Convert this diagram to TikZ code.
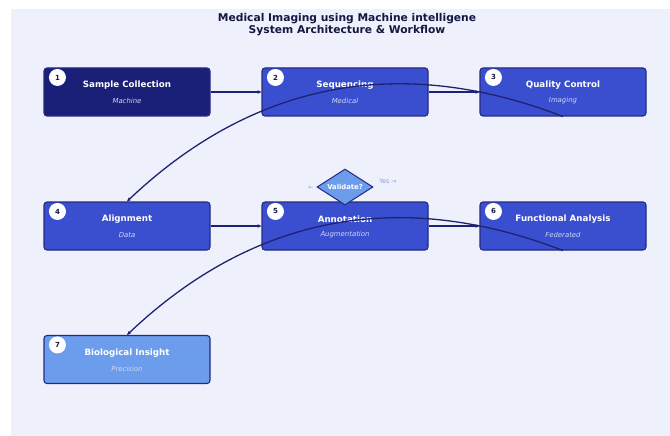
\documentclass[tikz,border=0pt]{standalone}
\usepackage{fontspec}
\setmainfont{DejaVu Sans}
\usetikzlibrary{shapes.geometric,arrows.meta,calc}
\definecolor{panelbg}{HTML}{EEF0FC}
\definecolor{navy}{HTML}{1A1F78}
\definecolor{edgec}{HTML}{252A80}
\definecolor{royal}{HTML}{3A4FCF}
\definecolor{cornf}{HTML}{6C9DEC}
\definecolor{subc}{HTML}{D0D6F5}
\definecolor{titlec}{HTML}{15183F}
\definecolor{linkc}{HTML}{1F2272}
\definecolor{yesc}{HTML}{7F9FE0}
\tikzset{
  box/.style={draw=edgec, line width=1.1pt, rounded corners=3pt, minimum width=166pt, minimum height=48pt, inner sep=0pt},
  numc/.style={circle, fill=white, minimum size=17pt, inner sep=0pt, font=\fontsize{7}{8}\selectfont\bfseries, text=titlec},
  btitle/.style={font=\fontsize{8.7}{10}\selectfont\bfseries, text=white},
  bsub/.style={font=\fontsize{6.9}{8}\selectfont\itshape, text=subc},
  link/.style={draw=linkc, line width=1.3pt, -{Stealth[length=4pt,width=3.5pt]}},
  arc/.style={draw=linkc, line width=1.3pt, -{Stealth[length=4pt,width=3.5pt]}},
}
\begin{document}
\begin{tikzpicture}[x=1pt,y=-1pt]
\useasboundingbox (0,0) rectangle (670,436);
\fill[panelbg] (11,9) rectangle (670,436);
\node[font=\fontsize{10.7}{12}\selectfont\bfseries, text=titlec, align=center] (title) at (347,24.5) {Medical Imaging using Machine intelligene\\System Architecture \& Workflow};

\node[box, fill=navy] (n1) at (127,92) {};
\node[box, fill=royal] (n2) at (345,92) {};
\node[box, fill=royal] (n3) at (563,92) {};
\node[box, fill=royal] (n4) at (127,226) {};
\node[box, fill=royal] (n5) at (345,226) {};
\node[box, fill=royal] (n6) at (563,226) {};
\node[box, fill=cornf] (n7) at (127,359.5) {};

\foreach \n/\t/\s in {n1/Sample Collection/Machine, n2/Sequencing/Medical, n3/Quality Control/Imaging, n4/Alignment/Data, n5/Annotation/Augmentation, n6/Functional Analysis/Federated, n7/Biological Insight/Precision}{
  \node[btitle] (\n t) at ($(\n.center)+(0,-6.5)$) {\t};
  \node[bsub] (\n s) at ($(\n.center)+(0,9)$) {\s};
}
\foreach \n/\k in {n1/1, n2/2, n3/3, n4/4, n5/5, n6/6, n7/7}{
  \node[numc] (\n c) at ($(\n.north west)+(14,10)$) {\k};
}

\draw[link] (n1.east) -- (n2.west);
\draw[link] (n2.east) -- (n3.west);
\draw[link] (n4.east) -- (n5.west);
\draw[link] (n5.east) -- (n6.west);

\draw[arc] (n3.south) .. controls +(-162.8,-62.9) and +(126.5,-120.2) .. (n4.north);
\draw[arc] (n6.south) .. controls +(-162.8,-62.9) and +(126.5,-120.2) .. (n7.north);

\node[diamond, draw=edgec, line width=1pt, fill=cornf, minimum width=56pt, minimum height=36pt, inner sep=0pt, aspect=1.55] (val) at (345,187) {};
\node[font=\fontsize{6.8}{8}\selectfont\bfseries, text=white] (valt) at (345,187) {Validate?};
\node[font=\fontsize{6}{7}\selectfont, text=yesc, anchor=east] (no) at (317,187.5) {←};
\node[font=\fontsize{6.3}{7.5}\selectfont, text=yesc] (yes) at (388,181) {Yes →};
\end{tikzpicture}
\end{document}
